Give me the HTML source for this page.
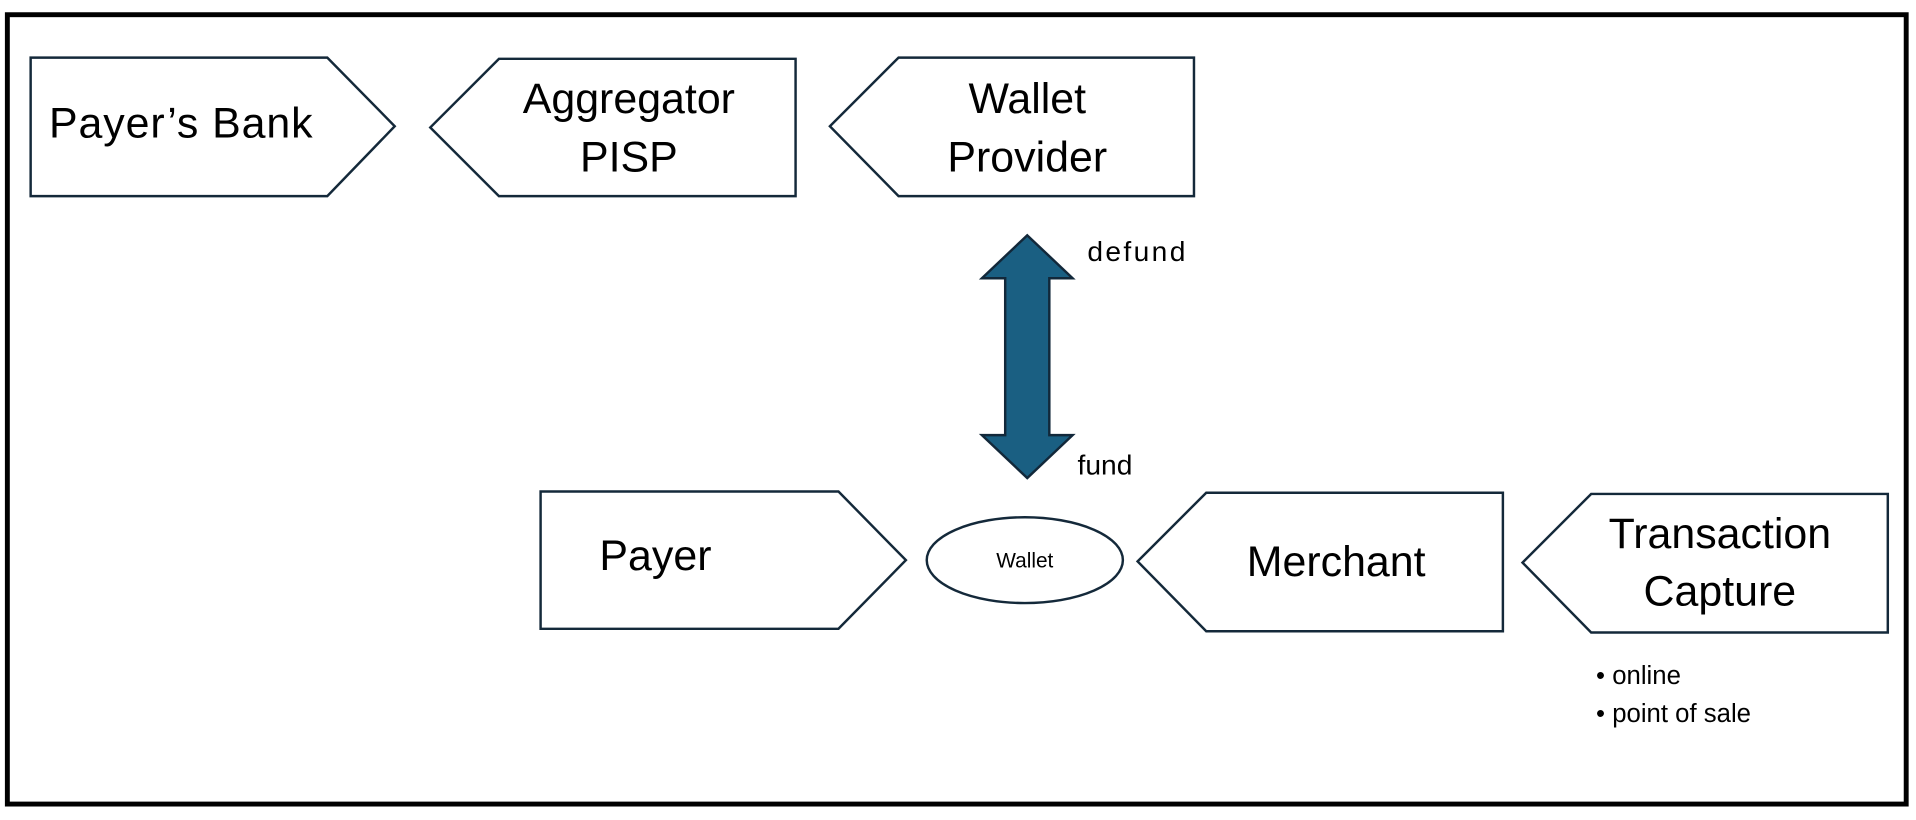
<!DOCTYPE html>
<html><head><meta charset="utf-8"><style>
html,body{margin:0;padding:0;background:#fff;}
svg{display:block;}
text{font-family:"Liberation Sans",sans-serif;fill:#000;}
</style></head><body>
<svg width="1916" height="820" viewBox="0 0 1563 669" preserveAspectRatio="none" xmlns="http://www.w3.org/2000/svg">
<rect x="6" y="12" width="1549" height="644" fill="#fff" stroke="#000" stroke-width="4"/>
<g fill="#fff" stroke="#14293a" stroke-width="2">
<polygon points="25,47 267,47 322,103 267,160 25,160"/>
<polygon points="351,104 407,48 649,48 649,160 407,160"/>
<polygon points="677,103 733,47 974,47 974,160 733,160"/>
<polygon points="441,401 684,401 739,457 684,513 441,513"/>
<ellipse cx="836" cy="457" rx="80" ry="35"/>
<polygon points="928,458 984,402 1226,402 1226,515 984,515"/>
<polygon points="1242,459 1298,403 1540,403 1540,516 1298,516"/>
</g>
<polygon points="838,192 875,227 856,227 856,355 875,355 838,390 801,355 820,355 820,227 801,227" fill="#1a5f82" stroke="#12283a" stroke-width="2"/>
<g font-size="35">
<text x="40" y="112" textLength="215">Payer’s Bank</text>
<text x="513" y="92" text-anchor="middle">Aggregator</text>
<text x="513" y="140" text-anchor="middle">PISP</text>
<text x="838" y="92" text-anchor="middle">Wallet</text>
<text x="838" y="140" text-anchor="middle">Provider</text>
<text x="489" y="465">Payer</text>
<text x="1090" y="470" text-anchor="middle">Merchant</text>
<text x="1403" y="447" text-anchor="middle">Transaction</text>
<text x="1403" y="494" text-anchor="middle">Capture</text>
</g>
<text x="836" y="463" font-size="17" text-anchor="middle">Wallet</text>
<text x="887" y="213" font-size="23" textLength="80">defund</text>
<text x="879" y="387" font-size="23">fund</text>
<text x="1302" y="558" font-size="21">• online</text>
<text x="1302" y="589" font-size="21">• point of sale</text>
</svg>
</body></html>
